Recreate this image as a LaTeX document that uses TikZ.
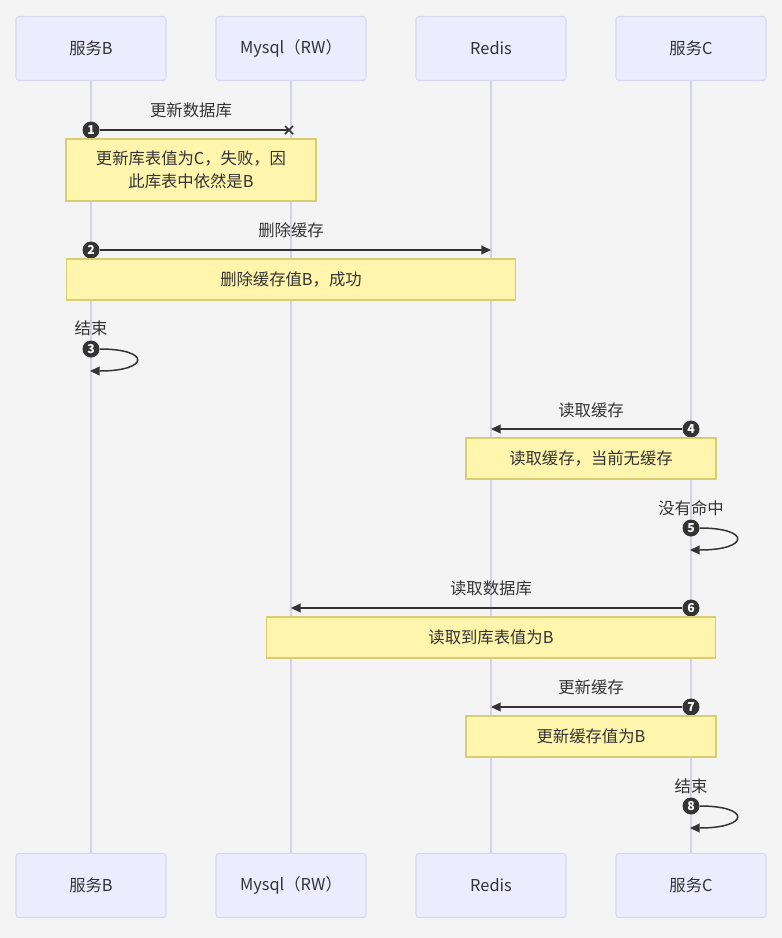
\documentclass[tikz,border=0pt]{standalone}
\usepackage{fontspec}
\setmainfont{Noto Sans CJK SC}
\usetikzlibrary{arrows.meta,shapes.misc}
\definecolor{actorfill}{HTML}{ECECFF}
\definecolor{actorline}{HTML}{D8D8F4}
\definecolor{lifeline}{HTML}{D3D1F0}
\definecolor{notefill}{HTML}{FFF5AD}
\definecolor{noteline}{HTML}{D9CD70}
\definecolor{ink}{HTML}{333333}
\definecolor{page}{HTML}{F4F4F4}

\begin{document}
\begin{tikzpicture}[
  x=0.02cm, y=-0.02cm,
  actor/.style={draw=actorline, fill=actorfill, rounded corners=0.06cm, line width=0.6pt,
    minimum width=3cm, minimum height=1.28cm, font=\fontsize{9.3}{11}\selectfont, text=ink},
  note/.style={draw=noteline, fill=notefill, line width=0.6pt, align=center,
    minimum width=5cm, minimum height=0.82cm, font=\fontsize{9.3}{13}\selectfont, text=ink},
  widenote/.style={note, minimum width=9cm},
  life/.style={draw=lifeline, line width=0.6pt},
  msg/.style={draw=ink, line width=0.85pt, -{Triangle[length=5.5pt, width=5pt]}},
  num/.style={circle, fill=ink, text=white, inner sep=0pt, minimum size=0.34cm,
    font=\fontsize{7}{7}\selectfont\bfseries},
  lbl/.style={font=\fontsize{9.3}{11}\selectfont, text=ink, inner sep=1pt},
  fail/.style={cross out, draw=ink, line width=0.85pt, minimum size=0.13cm, inner sep=0pt}
]
\fill[page] (0,0) rectangle (782,938);
\useasboundingbox (0,0) rectangle (782,938);

% participants
\node[actor] (b) at (91,48.5) {服务B};
\node[actor] (mysql) at (291,48.5) {Mysql（RW）};
\node[actor] (redis) at (491,48.5) {Redis};
\node[actor] (c) at (691,48.5) {服务C};
\node[actor] (b2) at (91,885.5) {服务B};
\node[actor] (mysql2) at (291,885.5) {Mysql（RW）};
\node[actor] (redis2) at (491,885.5) {Redis};
\node[actor] (c2) at (691,885.5) {服务C};

\draw[life] (b) -- (b2);
\draw[life] (mysql) -- (mysql2);
\draw[life] (redis) -- (redis2);
\draw[life] (c) -- (c2);

% 1
\node[lbl] (l1) at (191,110) {更新数据库};
\node[fail] (x1) at (289,130) {};
\node[num] (n1) at (91,130) {1};
\draw[draw=ink, line width=0.85pt] (n1) -- (x1.center);
\node[note, minimum height=1.24cm] (note1) at (191,170) {更新库表值为C，失败，因\\此库表中依然是B};

% 2
\node[lbl] (l2) at (291,230) {删除缓存};
\coordinate (e2) at (491,250);
\node[num] (n2) at (91,250) {2};
\draw[msg] (n2) -- (e2);
\node[widenote] (note2) at (291,279.5) {删除缓存值B，成功};

% 3
\node[lbl] (l3) at (91,328) {结束};
\node[num] (n3) at (91,349) {3};
\coordinate (e3) at (90,371);
\draw[msg] (n3) .. controls +(60,0) and +(60,0) .. (e3);

% 4
\node[lbl] (l4) at (591,410) {读取缓存};
\coordinate (e4) at (491,429);
\node[num] (n4) at (691,429) {4};
\draw[msg] (n4) -- (e4);
\node[note] (note4) at (591,458.5) {读取缓存，当前无缓存};

% 5
\node[lbl] (l5) at (691,508) {没有命中};
\node[num] (n5) at (691,528) {5};
\coordinate (e5) at (690,550);
\draw[msg] (n5) .. controls +(60,0) and +(60,0) .. (e5);

% 6
\node[lbl] (l6) at (491,588) {读取数据库};
\coordinate (e6) at (291,608);
\node[num] (n6) at (691,608) {6};
\draw[msg] (n6) -- (e6);
\node[widenote] (note6) at (491,637.5) {读取到库表值为B};

% 7
\node[lbl] (l7) at (591,687) {更新缓存};
\coordinate (e7) at (491,707);
\node[num] (n7) at (691,707) {7};
\draw[msg] (n7) -- (e7);
\node[note] (note7) at (591,736.5) {更新缓存值为B};

% 8
\node[lbl] (l8) at (691,786) {结束};
\node[num] (n8) at (691,806) {8};
\coordinate (e8) at (690,828);
\draw[msg] (n8) .. controls +(60,0) and +(60,0) .. (e8);
\end{tikzpicture}
\end{document}
